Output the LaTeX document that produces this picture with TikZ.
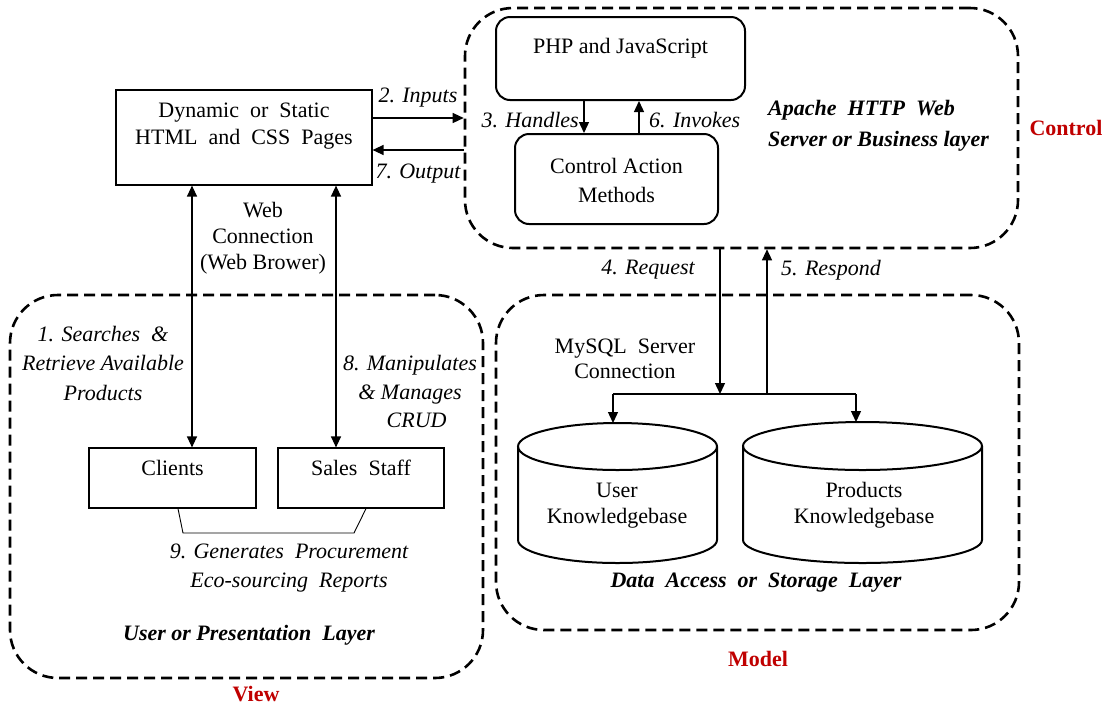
\documentclass[tikz,border=0pt]{standalone}
\usepackage{fontspec}
\setmainfont{Liberation Serif}
\usetikzlibrary{calc,arrows.meta}
\definecolor{ctlred}{RGB}{192,0,0}
\begin{document}
\begin{tikzpicture}[x=1pt,y=-1pt,
  font=\fontsize{22}{27}\selectfont,
  box/.style={draw, line width=1.2pt, inner sep=0},
  rbox/.style={draw, line width=2pt, rounded corners=14pt, inner sep=0},
  dashbox/.style={draw, line width=2.6pt, dash pattern=on 11pt off 6pt, rounded corners=48pt, inner sep=0},
  arr/.style={line width=1.3pt, -{Triangle[length=11pt,width=10pt]}},
  darr/.style={line width=1.3pt, {Triangle[length=11pt,width=10pt]}-{Triangle[length=11pt,width=10pt]}},
  lbl/.style={font=\fontsize{22}{29.5}\selectfont\itshape, align=center, inner sep=0},
  txt/.style={align=center, inner sep=0},
  layer/.style={font=\fontsize{22}{31}\selectfont\bfseries\itshape, inner sep=0},
  mvc/.style={font=\fontsize{22}{27}\selectfont\bfseries, text=ctlred, inner sep=0},
  cyl/.style={line width=2pt},
]
\useasboundingbox[fill=white] (0,0) rectangle (1110,705);

% layer frames
\node[dashbox, minimum width=553pt, minimum height=240pt] (ctrl) at (741.5,128) {};
\node[dashbox, minimum width=473pt, minimum height=383pt] (view) at (246.5,486.5) {};
\node[dashbox, minimum width=523pt, minimum height=335pt] (model) at (757.5,462.5) {};

% boxes
\node[box, minimum width=256pt, minimum height=95pt] (html) at (244,137.5) {};
\node[txt] (htmlt) at (244,126.5) {Dynamic \ or \ Static\\HTML \ and \ CSS \ Pages};
\node[rbox, minimum width=249pt, minimum height=83pt] (php) at (620.5,58.5) {};
\node[txt] (phpt) at (620.5,48) {PHP and JavaScript};
\node[rbox, minimum width=203pt, minimum height=90pt] (cam) at (616.5,179) {};
\node[txt, font=\fontsize{22}{29}\selectfont] (camt) at (616.5,180.5) {Control Action\\Methods};
\node[box, minimum width=167pt, minimum height=60pt] (cli) at (172.5,478) {};
\node[txt] (clit) at (172.5,468) {Clients};
\node[box, minimum width=166pt, minimum height=60pt] (sal) at (361,478) {};
\node[txt] (salt) at (361,468) {Sales \ Staff};

% inputs / output
\coordinate (in1) at ($(html.east)+(0,-19.5)$);
\coordinate (out1) at ($(html.east)+(0,12.5)$);
\draw[arr] (in1) -- (in1 -| ctrl.west);
\draw[arr] (out1 -| ctrl.west) -- (out1);
\node[lbl] (inl) at (418,98) {2. Inputs};
\node[lbl] (outl) at (418,174) {7. Output};

% handles / invokes
\coordinate (hx) at (584,0);
\coordinate (ix) at (639,0);
\draw[arr] (php.south -| hx) -- (cam.north -| hx);
\draw[arr] (cam.north -| ix) -- (php.south -| ix);
\node[lbl, anchor=east] (hl) at (579,120) {3. Handles};
\node[lbl, anchor=west] (il) at (649,120) {6. Invokes};

\node[layer, align=left, anchor=west] (apache) at (768,125.5) {Apache \ HTTP \ Web\\Server or Business layer};
\node[mvc] (ctl) at (1066,128) {Control};

% web connection
\coordinate (w1) at (192,0);
\coordinate (w2) at (336,0);
\draw[darr] (html.south -| w1) -- (cli.north -| w1);
\draw[darr] (html.south -| w2) -- (sal.north -| w2);
\node[txt, font=\fontsize{22}{26}\selectfont] (webc) at (263,238) {Web\\Connection\\(Web Brower)};

\node[lbl] (srch) at (103,363) {1. Searches \ \&\\Retrieve Available\\Products};
\node[lbl, font=\fontsize{22}{28.5}\selectfont\itshape] (manip) at (410,391.5) {8. Manipulates\\\& Manages\\\hspace*{0.6em}CRUD};

% bracket
\coordinate (b1) at (178,0);
\coordinate (b4) at (366,0);
\coordinate (bl) at (183,533);
\coordinate (br) at (354,533);
\draw[line width=0.9pt] (cli.south -| b1) -- (bl) -- (br) -- (sal.south -| b4);
\node[lbl, font=\fontsize{22}{29}\selectfont\itshape] (gen) at (289,568.5) {9. Generates \ Procurement\\Eco-sourcing \ Reports};
\node[layer] (upl) at (249,635) {User or Presentation \ Layer};
\node[mvc] (vw) at (256,694) {View};

% model
\coordinate (rq) at (720,0);
\coordinate (rs) at (767,0);
\coordinate (j) at (720,394);
\coordinate (ux) at (613,0);
\coordinate (px) at (856,0);
\coordinate (utop) at (613,423);
\coordinate (ptop) at (856,422);
\draw[arr] (ctrl.south -| rq) -- (j);
\draw[arr] (j -| rs) -- (ctrl.south -| rs);
\draw[line width=1.3pt] (j -| ux) -- (j -| px);
\draw[arr] (j -| ux) -- (utop);
\draw[arr] (j -| px) -- (ptop);
\node[lbl] (rql) at (648,270) {4. Request};
\node[lbl] (rsl) at (831,270) {5. Respond};
\node[txt, font=\fontsize{22}{25}\selectfont] (mysql) at (625,358.5) {MySQL \ Server\\Connection};

% cylinders
\draw[cyl] (617.5,446.5) ellipse [x radius=99.5, y radius=23.5];
\draw[cyl] (518,446.5) -- (518,540) arc[start angle=180, end angle=0, x radius=99.5, y radius=23] -- (717,446.5);
\draw[cyl] (862.5,446) ellipse [x radius=119.5, y radius=24];
\draw[cyl] (743,446) -- (743,540) arc[start angle=180, end angle=0, x radius=119.5, y radius=23] -- (982,446);
\node[txt, font=\fontsize{22}{26}\selectfont] (ukb) at (617,506) {User\\Knowledgebase};
\node[txt, font=\fontsize{22}{26}\selectfont] (pkb) at (864,505) {Products\\Knowledgebase};
\node[layer] (dal) at (756,583) {Data \ Access \ or \ Storage \ Layer};
\node[mvc] (mdl) at (758,659) {Model};
\end{tikzpicture}
\end{document}
